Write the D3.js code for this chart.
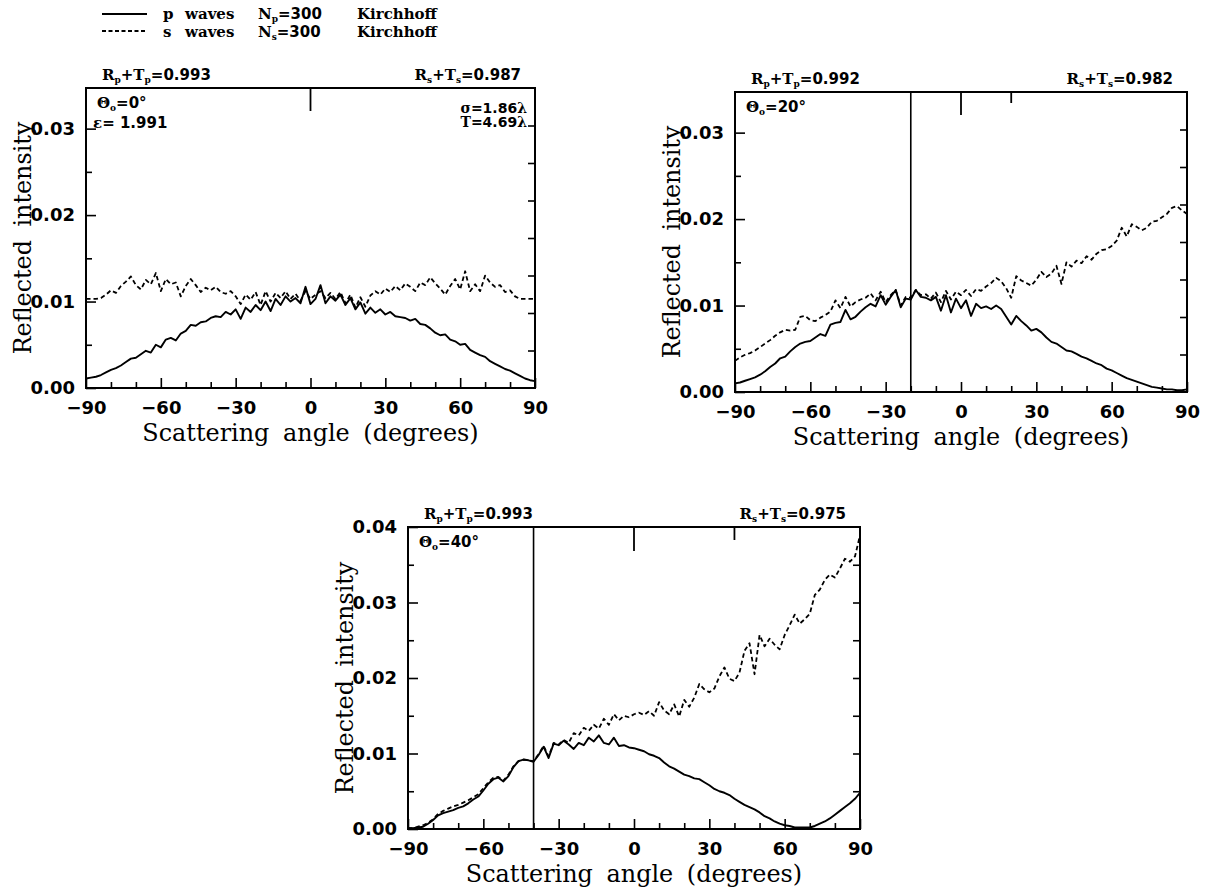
<!DOCTYPE html>
<html>
<head>
<meta charset="utf-8">
<script src="https://cdn.jsdelivr.net/npm/d3@7"></script>
<style>
  body { margin: 0; background: #fff; }
  svg { display: block; }
</style>
</head>
<body>
<svg id="chart" width="1207" height="888"></svg>
<script>
// Scattering angle grid (degrees), shared by every series
const angle = [
  -90,-88,-86,-84,-82,-80,-78,-76,-74,-72,
  -70,-68,-66,-64,-62,-60,-58,-56,-54,-52,
  -50,-48,-46,-44,-42,-40,-38,-36,-34,-32,
  -30,-28,-26,-24,-22,-20,-18,-16,-14,-12,
  -10,-8,-6,-4,-2,0,2,4,6,8,
  10,12,14,16,18,20,22,24,26,28,
  30,32,34,36,38,40,42,44,46,48,
  50,52,54,56,58,60,62,64,66,68,
  70,72,74,76,78,80,82,84,86,88,
  90
];

// Incidence 0 deg
const pWaves0 = [
  .0011,.0012,.0013,.0015,.0018,.0021,.0023,.0026,.0030,.0034,
  .0035,.0039,.0043,.0041,.0050,.0047,.0056,.0058,.0055,.0063,
  .0066,.0073,.0072,.0076,.0077,.0081,.0083,.0082,.0088,.0085,
  .0091,.0080,.0093,.0088,.0096,.0090,.0100,.0089,.0103,.0096,
  .0106,.0100,.0104,.0098,.0117,.0097,.0103,.0119,.0098,.0106,
  .0101,.0108,.0096,.0104,.0091,.0099,.0086,.0093,.0087,.0091,
  .0085,.0088,.0083,.0082,.0081,.0078,.0080,.0074,.0073,.0069,
  .0064,.0061,.0062,.0056,.0054,.0050,.0051,.0044,.0041,.0038,
  .0036,.0031,.0028,.0025,.0022,.0020,.0017,.0014,.0011,.0009,
  .0008
];
const sWaves0 = [
  .0103,.0103,.0103,.0104,.0108,.0113,.0110,.0118,.0123,.0129,
  .0119,.0114,.0125,.0120,.0133,.0112,.0126,.0120,.0122,.0106,
  .0118,.0126,.0119,.0111,.0116,.0113,.0117,.0111,.0109,.0112,
  .0106,.0097,.0108,.0102,.0111,.0096,.0112,.0100,.0110,.0104,
  .0112,.0103,.0109,.0101,.0112,.0103,.0108,.0112,.0104,.0110,
  .0103,.0111,.0098,.0108,.0093,.0105,.0094,.0107,.0112,.0108,
  .0115,.0111,.0118,.0113,.0121,.0117,.0112,.0122,.0119,.0128,
  .0121,.0115,.0108,.0118,.0126,.0114,.0135,.0112,.0120,.0112,
  .0130,.0122,.0117,.0119,.0111,.0113,.0106,.0103,.0103,.0103,
  .0103
];

// Incidence 20 deg
const pWaves20 = [
  .0010,.0011,.0013,.0015,.0017,.0020,.0024,.0029,.0033,.0039,
  .0041,.0047,.0052,.0056,.0058,.0059,.0063,.0067,.0065,.0078,
  .0080,.0081,.0095,.0084,.0087,.0093,.0098,.0102,.0099,.0112,
  .0101,.0110,.0118,.0098,.0108,.0107,.0118,.0110,.0109,.0106,
  .0110,.0094,.0112,.0092,.0108,.0097,.0106,.0088,.0102,.0097,
  .0099,.0096,.0100,.0096,.0087,.0078,.0088,.0082,.0077,.0071,
  .0073,.0069,.0063,.0058,.0056,.0052,.0048,.0047,.0044,.0041,
  .0039,.0036,.0033,.0031,.0027,.0025,.0022,.0019,.0016,.0014,
  .0012,.0010,.0008,.0006,.0005,.0004,.0003,.0003,.0002,.0002,
  .0003
];
const sWaves20 = [
  .0036,.0040,.0043,.0045,.0048,.0052,.0056,.0060,.0065,.0069,
  .0072,.0071,.0072,.0087,.0088,.0083,.0082,.0086,.0089,.0093,
  .0106,.0097,.0110,.0099,.0104,.0107,.0109,.0114,.0106,.0116,
  .0104,.0112,.0118,.0100,.0110,.0109,.0118,.0112,.0113,.0108,
  .0115,.0104,.0117,.0107,.0116,.0112,.0118,.0111,.0119,.0117,
  .0122,.0126,.0132,.0128,.0120,.0109,.0134,.0129,.0126,.0123,
  .0130,.0139,.0133,.0137,.0146,.0125,.0150,.0145,.0152,.0149,
  .0157,.0153,.0160,.0164,.0165,.0169,.0175,.0190,.0180,.0194,
  .0191,.0187,.0190,.0197,.0198,.0202,.0206,.0213,.0215,.0210,
  .0206
];

// Incidence 40 deg
const pWaves40 = [
  .0001,.0001,.0002,.0003,.0007,.0012,.0018,.0021,.0023,.0025,
  .0028,.0030,.0034,.0039,.0043,.0051,.0060,.0066,.0068,.0063,
  .0070,.0082,.0090,.0092,.0091,.0089,.0098,.0109,.0094,.0113,
  .0111,.0117,.0112,.0106,.0114,.0111,.0121,.0116,.0124,.0114,
  .0112,.0121,.0110,.0111,.0108,.0107,.0105,.0103,.0099,.0097,
  .0094,.0088,.0083,.0080,.0076,.0072,.0070,.0067,.0066,.0062,
  .0058,.0053,.0050,.0048,.0045,.0040,.0036,.0032,.0029,.0026,
  .0022,.0017,.0014,.0010,.0007,.0005,.0004,.0002,.0002,.0002,
  .0002,.0004,.0007,.0010,.0014,.0019,.0024,.0029,.0034,.0040,
  .0048
];
const sWaves40 = [
  .0001,.0001,.0003,.0005,.0008,.0013,.0020,.0024,.0027,.0030,
  .0032,.0035,.0038,.0042,.0046,.0054,.0062,.0068,.0069,.0064,
  .0072,.0083,.0090,.0092,.0091,.0090,.0099,.0110,.0096,.0114,
  .0112,.0118,.0114,.0127,.0124,.0134,.0130,.0138,.0133,.0146,
  .0138,.0152,.0144,.0150,.0148,.0152,.0154,.0151,.0156,.0150,
  .0168,.0157,.0152,.0165,.0149,.0171,.0162,.0174,.0192,.0185,
  .0181,.0186,.0202,.0214,.0199,.0196,.0207,.0236,.0246,.0205,
  .0257,.0242,.0252,.0244,.0238,.0257,.0270,.0284,.0272,.0278,
  .0285,.0310,.0317,.0330,.0337,.0333,.0345,.0358,.0354,.0361,
  .0389
];

// Axis ticks
const xMajorTicks = [-90, -60, -30, 0, 30, 60, 90];
const xMinorTicks = [-80, -70, -50, -40, -20, -10, 10, 20, 40, 50, 70, 80];
const yMajorTicks35 = [0, 0.01, 0.02, 0.03];
const yMinorTicks35 = [0.005, 0.015, 0.025];
const yMajorTicks40 = [0, 0.01, 0.02, 0.03, 0.04];
const yMinorTicks40 = [0.005, 0.015, 0.025, 0.035];

// Energy balance and incidence annotations
const incidence = [0, 20, 40];
const sumP = ["0.993", "0.992", "0.993"];
const sumS = ["0.987", "0.982", "0.975"];
const pWaveCount = 300;
const sWaveCount = 300;
const surfaceSigma = "1.86";
const surfaceT = "4.69";
const epsilonValue = "1.991";

const SERIF = "'DejaVu Serif', serif";
const SANS = "'DejaVu Sans', sans-serif";

const svg = d3.select("#chart");

// Text with _{sub} markup; letters in serif, digits and signs in sans
function rich(parent, x, y, anchor, str, size) {
  const t = parent.append("text")
    .attr("x", x).attr("y", y)
    .attr("text-anchor", anchor)
    .attr("font-size", size)
    .attr("font-weight", "bold")
    .style("white-space", "pre");
  const re = /_\{([^}]*)\}|([0-9.=+°\- ]+)|([^_0-9.=+°\- ]+)/g;
  let m, shifted = false;
  const shift = size * 0.2;
  while ((m = re.exec(str))) {
    const s = t.append("tspan");
    if (m[1] !== undefined) {
      s.text(m[1]).attr("font-family", SERIF).attr("font-size", size * 0.6).attr("dy", shift);
      shifted = true;
    } else {
      s.text(m[2] || m[3]).attr("font-family", m[2] ? SANS : SERIF);
      if (shifted) { s.attr("dy", -shift); shifted = false; }
    }
  }
  return t;
}

// Size a title so it spans a given width, with slightly open word gaps
function fitTitle(textSel, width, gap) {
  textSel.attr("word-spacing", gap);
  const base = +textSel.attr("font-size");
  const natural = textSel.node().getComputedTextLength();
  textSel.attr("font-size", base * width / natural);
}

const panels = [
  { left: 86, right: 535, top: 88, bottom: 388, ymax: 0.0347,
    yMajor: yMajorTicks35, yMinor: yMinorTicks35,
    p: pWaves0, s: sWaves0, idx: 0,
    markers: [{ a: 0, len: 23 }], surface: true },
  { left: 735, right: 1187, top: 92, bottom: 392, ymax: 0.0347,
    yMajor: yMajorTicks35, yMinor: yMinorTicks35,
    p: pWaves20, s: sWaves20, idx: 1,
    markers: [{ a: -20, full: true }, { a: 0, len: 23 }, { a: 20, len: 11 }] },
  { left: 408, right: 860, top: 527, bottom: 829, ymax: 0.04,
    yMajor: yMajorTicks40, yMinor: yMinorTicks40,
    p: pWaves40, s: sWaves40, idx: 2,
    markers: [{ a: -40, full: true }, { a: 0, len: 24 }, { a: 40, len: 13 }] }
];

function styleAxis(g, withText) {
  g.select(".domain").remove();
  g.selectAll(".tick line").attr("stroke", "#000").attr("stroke-width", 1.6);
  if (withText) {
    g.selectAll(".tick text")
      .attr("fill", "#000")
      .attr("font-family", SANS)
      .attr("font-weight", "bold")
      .attr("font-size", 18);
  } else {
    g.selectAll(".tick text").remove();
  }
}

panels.forEach(cfg => {
  const x = d3.scaleLinear().domain([-90, 90]).range([cfg.left, cfg.right]);
  const y = d3.scaleLinear().domain([0, cfg.ymax]).range([cfg.bottom, cfg.top]);
  const g = svg.append("g");

  // bottom axis: labelled majors and short minors, ticks pointing inward
  const xb = g.append("g").attr("transform", `translate(0,${cfg.bottom})`)
    .call(d3.axisBottom(x).tickValues(xMajorTicks).tickSizeInner(-10).tickSizeOuter(0)
      .tickPadding(13).tickFormat(d3.format("d")));
  styleAxis(xb, true);
  const xm = g.append("g").attr("transform", `translate(0,${cfg.bottom})`)
    .call(d3.axisBottom(x).tickValues(xMinorTicks).tickSizeInner(-6).tickSizeOuter(0));
  styleAxis(xm, false);

  // left axis
  const yl = g.append("g").attr("transform", `translate(${cfg.left},0)`)
    .call(d3.axisLeft(y).tickValues(cfg.yMajor).tickSizeInner(-10).tickSizeOuter(0)
      .tickPadding(11).tickFormat(d3.format(".2f")));
  styleAxis(yl, true);
  const ym = g.append("g").attr("transform", `translate(${cfg.left},0)`)
    .call(d3.axisLeft(y).tickValues(cfg.yMinor).tickSizeInner(-6).tickSizeOuter(0));
  styleAxis(ym, false);

  // right edge: eight equal divisions, ticks pointing inward
  const yr = d3.scaleLinear().domain([0, 8]).range([cfg.bottom, cfg.top]);
  const yrAxis = g.append("g").attr("transform", `translate(${cfg.right},0)`)
    .call(d3.axisRight(yr).tickValues(d3.range(1, 8)).tickSizeInner(-7).tickSizeOuter(0));
  styleAxis(yrAxis, false);

  // curves
  const line = d3.line().x((d, i) => x(angle[i])).y(d => y(d));
  g.append("path").datum(cfg.s).attr("d", line)
    .attr("fill", "none").attr("stroke", "#000").attr("stroke-width", 1.8)
    .attr("stroke-dasharray", "4.5,3").attr("stroke-linejoin", "round");
  g.append("path").datum(cfg.p).attr("d", line)
    .attr("fill", "none").attr("stroke", "#000").attr("stroke-width", 1.9)
    .attr("stroke-linejoin", "round");

  // direction markers along the top edge
  cfg.markers.forEach(mk => {
    g.append("line")
      .attr("x1", x(mk.a)).attr("x2", x(mk.a))
      .attr("y1", cfg.top).attr("y2", mk.full ? cfg.bottom : cfg.top + mk.len)
      .attr("stroke", "#000").attr("stroke-width", mk.full ? 1.6 : 1.8);
  });

  // frame
  g.append("rect")
    .attr("x", cfg.left).attr("y", cfg.top)
    .attr("width", cfg.right - cfg.left).attr("height", cfg.bottom - cfg.top)
    .attr("fill", "none").attr("stroke", "#000").attr("stroke-width", 2);

  // axis titles
  const xt = g.append("text")
    .attr("x", (cfg.left + cfg.right) / 2).attr("y", cfg.bottom + 53)
    .attr("text-anchor", "middle")
    .attr("font-family", SERIF).attr("font-size", 23)
    .text("Scattering angle (degrees)");
  fitTitle(xt, 337, 6);
  const ytTitle = g.append("text")
    .attr("transform", `translate(${cfg.left - 55},${(cfg.top + cfg.bottom) / 2}) rotate(-90)`)
    .attr("text-anchor", "middle")
    .attr("font-family", SERIF).attr("font-size", 23)
    .text("Reflected intensity");
  fitTitle(ytTitle, 233, 6);

  // energy sums above the frame
  rich(g, cfg.left + 16, cfg.top - 8, "start", `R_{p}+T_{p}=${sumP[cfg.idx]}`, 15);
  rich(g, cfg.right - 14, cfg.top - 8, "end", `R_{s}+T_{s}=${sumS[cfg.idx]}`, 15);

  // incidence angle inside the frame
  rich(g, cfg.left + 11, cfg.top + 20, "start", `Θ_{o}=${incidence[cfg.idx]}°`, 15);

  if (cfg.surface) {
    rich(g, cfg.left + 7, cfg.top + 40, "start", `ε= ${epsilonValue}`, 15);
    rich(g, cfg.right - 8, cfg.top + 25, "end", `σ=${surfaceSigma}λ`, 14);
    rich(g, cfg.right - 8, cfg.top + 39, "end", `T=${surfaceT}λ`, 14);
  }
});

// legend
const legend = svg.append("g");
legend.append("line").attr("x1", 102).attr("x2", 147).attr("y1", 14).attr("y2", 14)
  .attr("stroke", "#000").attr("stroke-width", 1.8);
legend.append("line").attr("x1", 102).attr("x2", 147).attr("y1", 31).attr("y2", 31)
  .attr("stroke", "#000").attr("stroke-width", 1.8).attr("stroke-dasharray", "4,2.5");
[["p", pWaveCount, 19], ["s", sWaveCount, 37]].forEach(([w, n, by]) => {
  rich(legend, 163, by, "start", w, 15);
  rich(legend, 185, by, "start", "waves", 15);
  rich(legend, 258, by, "start", `N_{${w}}=${n}`, 15);
  rich(legend, 357, by, "start", "Kirchhoff", 15);
});
</script>
</body>
</html>
